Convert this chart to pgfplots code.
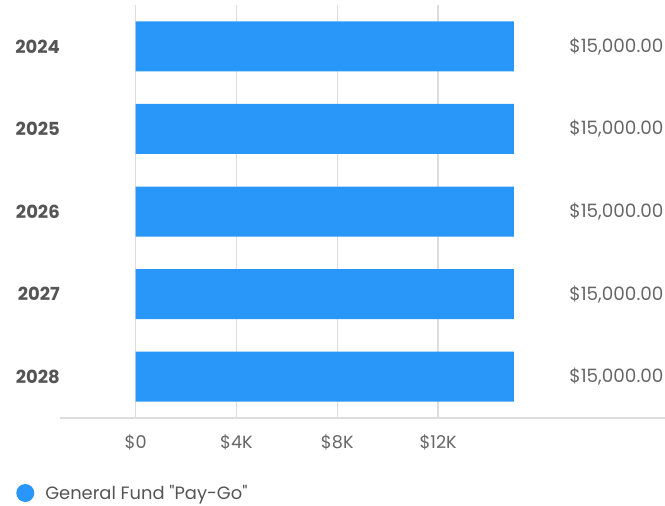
\documentclass[border=0pt]{standalone}
\usepackage{pgfplots}
\pgfplotsset{compat=1.18}
\usepackage{fontspec}
\setmainfont{Poppins}
\newfontfamily\plainq{Poppins}[Ligatures=TeXOff]
\definecolor{barblue}{HTML}{2997FA}
\definecolor{gridc}{HTML}{DDDDDD}
\definecolor{txt}{HTML}{666666}
\definecolor{ytxt}{HTML}{555555}
\begin{document}
\begin{tikzpicture}
\path[use as bounding box] (0,0) rectangle (498.75pt,-379.5pt);
\begin{axis}[
 at={(45pt,-313.5pt)}, anchor=south west,
 scale only axis, width=453.75pt, height=309.75pt,
 xbar, bar width=37.5pt,
 xmin=-3000, xmax=21000,
 ymin=-0.5, ymax=4.5, y dir=reverse,
 scaled x ticks=false,
 ytick={0,1,2,3,4}, yticklabels={2024,2025,2026,2027,2028},
 xtick={0,4000,8000,12000}, xticklabels={\$0,\$4K,\$8K,\$12K},
 xmajorgrids, grid style={gridc, line width=1.1pt},
 axis x line*=bottom, axis y line*=left,
 x axis line style={gridc, line width=1.1pt, -},
 y axis line style={draw=none},
 major tick length=0,
 yticklabel style={anchor=east, inner sep=0pt, text=ytxt, font=\fontsize{13.5}{16}\selectfont\bfseries},
 xticklabel style={anchor=base, inner sep=0pt, yshift=-22.5pt, text=txt, font=\fontsize{13.2}{16}\selectfont},
 nodes near coords={\$\pgfmathprintnumber[fixed, fixed zerofill, precision=2, 1000 sep={,}, assume math mode=true]{\pgfplotspointmeta}},
 every node near coord/.append style={anchor=east, xshift=112.5pt, inner sep=0pt, text=txt, font=\fontsize{13.8}{16}\selectfont},
 legend style={at={(axis description cs:-0.0727,-0.1816)}, anchor=west, draw=none, fill=none, inner sep=0pt, column sep=8.25pt, nodes={inner sep=0pt, text=ytxt, font=\fontsize{13.4}{16}\selectfont}},
 clip=false,
]
\addplot[fill=barblue, draw=none, legend image code/.code={\fill[barblue] (6.75pt,0pt) circle (6.75pt);}] coordinates {
 (15000,0) (15000,1) (15000,2) (15000,3) (15000,4)
};
\addlegendentry{General Fund {\plainq"}Pay-Go{\plainq"}}
\end{axis}
\end{tikzpicture}
\end{document}
